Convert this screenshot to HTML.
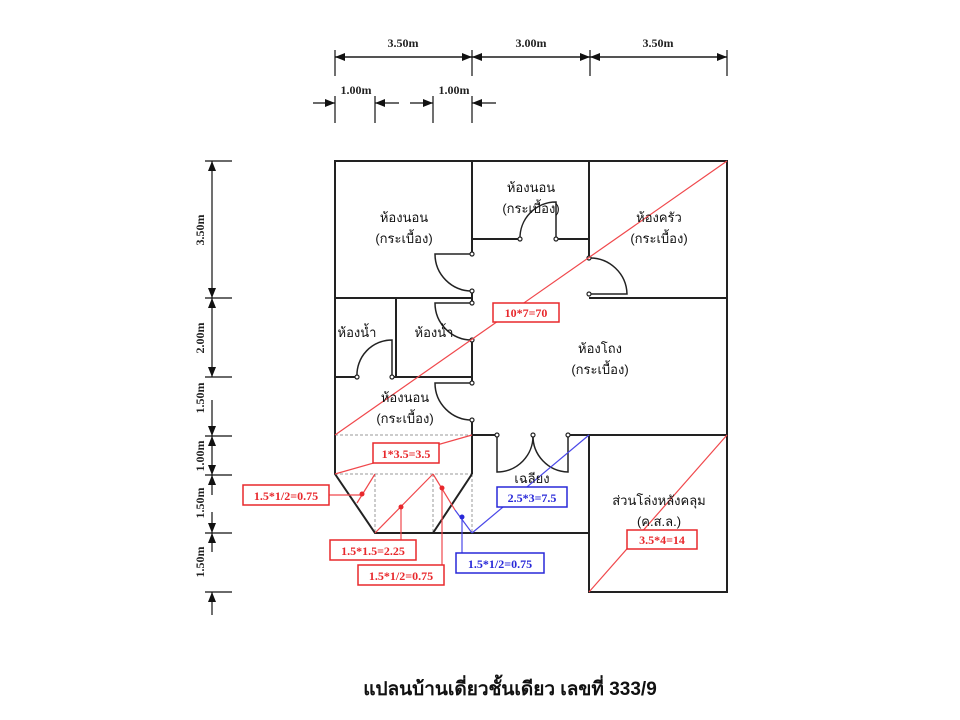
<!DOCTYPE html>
<html><head><meta charset="utf-8"><style>
body{margin:0;background:#fff}
svg{display:block}
text{font-family:"Liberation Serif","DejaVu Serif",serif}
.t{font-family:"Liberation Sans","DejaVu Sans",sans-serif;font-size:13px;fill:#111}
.d{font-size:12px;font-weight:bold;fill:#222}
.w{stroke:#222;stroke-width:2;fill:none}
.a{stroke:#222;stroke-width:1.5;fill:none}
.r{stroke:#f0484c;stroke-width:1.2;fill:none}
.b{stroke:#4a48e8;stroke-width:1.2;fill:none}
.g{stroke:#999;stroke-width:1;stroke-dasharray:3,2;fill:none}
.lr{font-size:12px;font-weight:bold;fill:#e8282c}
.lb{font-size:12px;font-weight:bold;fill:#2828d8}
</style></head><body>
<svg width="960" height="720" viewBox="0 0 960 720" xmlns="http://www.w3.org/2000/svg">
<defs>
<marker id="ar" markerWidth="10" markerHeight="8" refX="10" refY="4" orient="auto" markerUnits="userSpaceOnUse"><path d="M0,0L10,4L0,8z" fill="#111"/></marker>
</defs>
<g stroke="#111" stroke-width="1.2">
<line x1="335" y1="57" x2="472" y2="57" marker-end="url(#ar)"/><line x1="472" y1="57" x2="335" y2="57" marker-end="url(#ar)"/>
<line x1="472" y1="57" x2="590" y2="57" marker-end="url(#ar)"/><line x1="590" y1="57" x2="472" y2="57" marker-end="url(#ar)"/>
<line x1="590" y1="57" x2="727" y2="57" marker-end="url(#ar)"/><line x1="727" y1="57" x2="590" y2="57" marker-end="url(#ar)"/>
<line x1="335" y1="50" x2="335" y2="76"/><line x1="472" y1="50" x2="472" y2="76"/><line x1="590" y1="50" x2="590" y2="76"/><line x1="727" y1="50" x2="727" y2="76"/>
<line x1="335" y1="96" x2="335" y2="123"/><line x1="375" y1="96" x2="375" y2="123"/><line x1="433" y1="96" x2="433" y2="123"/><line x1="472" y1="96" x2="472" y2="123"/>
<line x1="313" y1="103" x2="335" y2="103" marker-end="url(#ar)"/>
<line x1="399" y1="103" x2="375" y2="103" marker-end="url(#ar)"/>
<line x1="410" y1="103" x2="433" y2="103" marker-end="url(#ar)"/>
<line x1="496" y1="103" x2="472" y2="103" marker-end="url(#ar)"/>
</g>
<text class="d" x="403" y="47" text-anchor="middle">3.50m</text>
<text class="d" x="531" y="47" text-anchor="middle">3.00m</text>
<text class="d" x="658" y="47" text-anchor="middle">3.50m</text>
<text class="d" x="356" y="94" text-anchor="middle">1.00m</text>
<text class="d" x="454" y="94" text-anchor="middle">1.00m</text>
<g stroke="#111" stroke-width="1.2">
<line x1="212" y1="230" x2="212" y2="161" marker-end="url(#ar)"/><line x1="212" y1="230" x2="212" y2="298" marker-end="url(#ar)"/>
<line x1="212" y1="338" x2="212" y2="298" marker-end="url(#ar)"/><line x1="212" y1="338" x2="212" y2="377" marker-end="url(#ar)"/>
<line x1="212" y1="400" x2="212" y2="436" marker-end="url(#ar)"/>
<line x1="212" y1="455" x2="212" y2="436" marker-end="url(#ar)"/><line x1="212" y1="455" x2="212" y2="475" marker-end="url(#ar)"/>
<line x1="212" y1="495" x2="212" y2="475" marker-end="url(#ar)"/>
<line x1="212" y1="512" x2="212" y2="533" marker-end="url(#ar)"/>
<line x1="212" y1="552" x2="212" y2="533" marker-end="url(#ar)"/>
<line x1="212" y1="615" x2="212" y2="592" marker-end="url(#ar)"/>
<line x1="205" y1="161" x2="232" y2="161"/><line x1="205" y1="298" x2="232" y2="298"/><line x1="205" y1="377" x2="232" y2="377"/>
<line x1="205" y1="436" x2="232" y2="436"/><line x1="205" y1="475" x2="232" y2="475"/><line x1="205" y1="533" x2="232" y2="533"/><line x1="205" y1="592" x2="232" y2="592"/>
</g>
<text class="d" transform="translate(204,230) rotate(-90)" text-anchor="middle">3.50m</text>
<text class="d" transform="translate(204,338) rotate(-90)" text-anchor="middle">2.00m</text>
<text class="d" transform="translate(204,398) rotate(-90)" text-anchor="middle">1.50m</text>
<text class="d" transform="translate(204,456) rotate(-90)" text-anchor="middle">1.00m</text>
<text class="d" transform="translate(204,503) rotate(-90)" text-anchor="middle">1.50m</text>
<text class="d" transform="translate(204,562) rotate(-90)" text-anchor="middle">1.50m</text>
<line class="g" x1="335" y1="435" x2="472" y2="435"/>
<line class="g" x1="335" y1="474" x2="472" y2="474"/>
<line class="g" x1="375" y1="474" x2="375" y2="533"/>
<line class="g" x1="433" y1="474" x2="433" y2="533"/>
<line class="g" x1="472" y1="474" x2="472" y2="533"/>
<g class="w">
<path d="M472,161 H335 V435"/>
<path d="M472,161 H727 V435 H570"/>
<path d="M472,161 V254 M472,291 V303 M472,340 V383 M472,420 V474"/>
<path d="M335,298 H472"/>
<path d="M472,239 H520 M556,239 H589"/>
<path d="M589,161 V258 M589,298 H727"/>
<path d="M396,298 V377 M335,377 H357 M392,377 H472"/>
<path d="M472,435 H497"/>
<path d="M335,435 V474 L375,533 H589 M472,474 L433,533"/>
<path d="M589,435 V592 H727 V435"/>
</g>
<g class="a">
<path d="M472,254 H435 A37,37 0 0 0 472,291"/>
<path d="M472,303 H435 A37,37 0 0 0 472,340"/>
<path d="M472,383 H435 A37,37 0 0 0 472,420"/>
<path d="M556,239 V202 A36,36 0 0 0 520,239"/>
<path d="M589,294 H627 A37,37 0 0 0 589,258"/>
<path d="M392,377 V340 A35,35 0 0 0 357,377"/>
<path d="M497,435 V472 A36,36 0 0 0 533,435"/>
<path d="M568,435 V472 A36,36 0 0 1 533,435"/>
</g>
<g fill="#fff" stroke="#222" stroke-width="1.2">
<circle cx="472" cy="254" r="2"/><circle cx="472" cy="291" r="2"/><circle cx="472" cy="303" r="2"/><circle cx="472" cy="340" r="2"/>
<circle cx="472" cy="383" r="2"/><circle cx="472" cy="420" r="2"/><circle cx="520" cy="239" r="2"/><circle cx="556" cy="239" r="2"/>
<circle cx="589" cy="258" r="2"/><circle cx="589" cy="294" r="2"/><circle cx="357" cy="377" r="2"/><circle cx="392" cy="377" r="2"/>
<circle cx="497" cy="435" r="2"/><circle cx="533" cy="435" r="2"/><circle cx="568" cy="435" r="2"/>
</g>
<line class="r" x1="335" y1="435" x2="727" y2="161"/>
<line class="r" x1="335" y1="474" x2="472" y2="435"/>
<line class="r" x1="589" y1="592" x2="727" y2="435"/>
<line class="r" x1="357" y1="503" x2="375" y2="474"/>
<line class="r" x1="375" y1="533" x2="433" y2="474"/>
<line class="r" x1="433" y1="474" x2="455" y2="510"/>
<line class="b" x1="455" y1="510" x2="472" y2="533"/>
<line class="b" x1="472" y1="533" x2="589" y2="435"/>
<line class="r" x1="302" y1="495" x2="362" y2="495"/>
<line class="r" x1="401" y1="507" x2="401" y2="542"/>
<line class="r" x1="442" y1="488" x2="442" y2="567"/>
<line class="b" x1="462" y1="517" x2="462" y2="555"/>
<circle cx="362" cy="494" r="2.5" fill="#e8282c"/><circle cx="401" cy="507" r="2.5" fill="#e8282c"/>
<circle cx="442" cy="488" r="2.5" fill="#e8282c"/><circle cx="462" cy="517" r="2.5" fill="#2828d8"/>
<g fill="#fff">
<rect x="493" y="303" width="66" height="19" stroke="#e8282c" stroke-width="1.5"/>
<rect x="373" y="443" width="66" height="20" stroke="#e8282c" stroke-width="1.5"/>
<rect x="243" y="485" width="86" height="20" stroke="#e8282c" stroke-width="1.5"/>
<rect x="330" y="540" width="86" height="20" stroke="#e8282c" stroke-width="1.5"/>
<rect x="358" y="565" width="86" height="20" stroke="#e8282c" stroke-width="1.5"/>
<rect x="456" y="553" width="88" height="20" stroke="#2828d8" stroke-width="1.5"/>
<rect x="497" y="487" width="70" height="20" stroke="#2828d8" stroke-width="1.5"/>
<rect x="627" y="530" width="70" height="19" stroke="#e8282c" stroke-width="1.5"/>
</g>
<text class="lr" x="526" y="317" text-anchor="middle">10*7=70</text>
<text class="lr" x="406" y="458" text-anchor="middle">1*3.5=3.5</text>
<text class="lr" x="286" y="500" text-anchor="middle">1.5*1/2=0.75</text>
<text class="lr" x="373" y="555" text-anchor="middle">1.5*1.5=2.25</text>
<text class="lr" x="401" y="580" text-anchor="middle">1.5*1/2=0.75</text>
<text class="lb" x="500" y="568" text-anchor="middle">1.5*1/2=0.75</text>
<text class="lb" x="532" y="502" text-anchor="middle">2.5*3=7.5</text>
<text class="lr" x="662" y="544" text-anchor="middle">3.5*4=14</text>
<text class="t" x="404" y="222" text-anchor="middle">ห้องนอน</text>
<text class="t" x="404" y="243" text-anchor="middle">(กระเบื้อง)</text>
<text class="t" x="531" y="192" text-anchor="middle">ห้องนอน</text>
<text class="t" x="531" y="213" text-anchor="middle">(กระเบื้อง)</text>
<text class="t" x="659" y="222" text-anchor="middle">ห้องครัว</text>
<text class="t" x="659" y="243" text-anchor="middle">(กระเบื้อง)</text>
<text class="t" x="357" y="337" text-anchor="middle">ห้องน้ำ</text>
<text class="t" x="434" y="337" text-anchor="middle">ห้องน้ำ</text>
<text class="t" x="600" y="353" text-anchor="middle">ห้องโถง</text>
<text class="t" x="600" y="374" text-anchor="middle">(กระเบื้อง)</text>
<text class="t" x="405" y="402" text-anchor="middle">ห้องนอน</text>
<text class="t" x="405" y="423" text-anchor="middle">(กระเบื้อง)</text>
<text class="t" x="532" y="483" text-anchor="middle">เฉลียง</text>
<text class="t" x="659" y="505" text-anchor="middle">ส่วนโล่งหลังคลุม</text>
<text class="t" x="659" y="526" text-anchor="middle">(ค.ส.ล.)</text>
<text x="510" y="695" text-anchor="middle" style="font-family:'Liberation Sans','DejaVu Sans',sans-serif;font-size:19px;font-weight:bold;fill:#111">แปลนบ้านเดี่ยวชั้นเดียว เลขที่ 333/9</text>
</svg>
</body></html>
